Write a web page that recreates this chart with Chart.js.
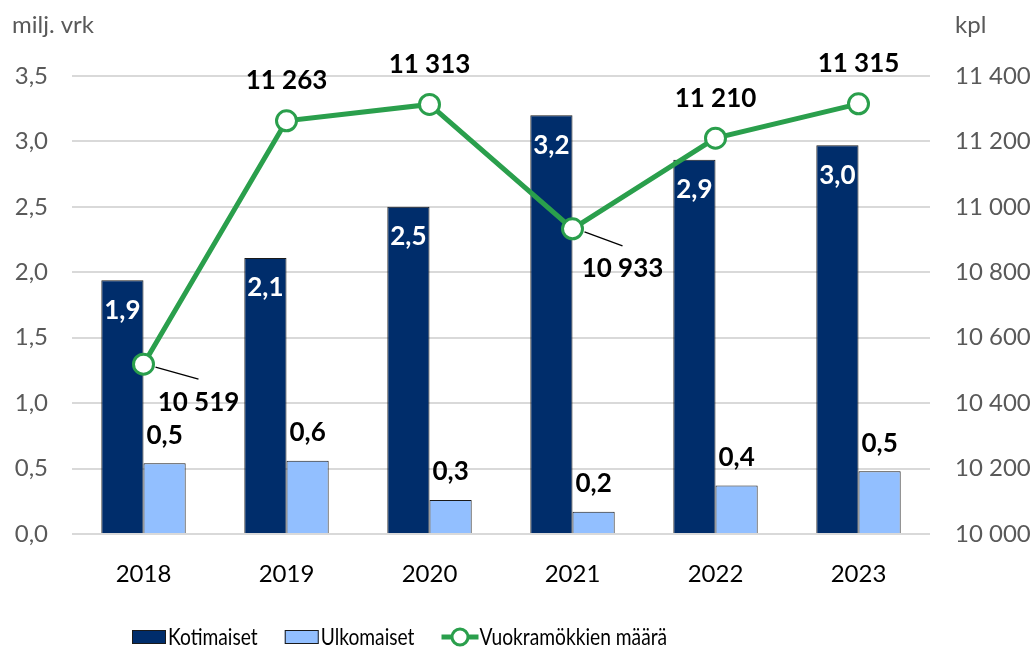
<!DOCTYPE html>
<html>
<head>
<meta charset="utf-8">
<script src="https://cdn.jsdelivr.net/npm/chart.js@4"></script>
<style>
  html, body { margin: 0; padding: 0; background: #fff; }
  #wrap { width: 1035px; height: 654px; }
</style>
</head>
<body>
<div id="wrap"><canvas id="chart" width="1035" height="654"></canvas></div>
<script>
// Data
const years = ['2018', '2019', '2020', '2021', '2022', '2023'];
const kotimaiset = [1.94, 2.11, 2.50, 3.20, 2.86, 2.97];
const ulkomaiset = [0.54, 0.56, 0.26, 0.17, 0.37, 0.48];
const mokit = [10519, 11263, 11313, 10933, 11210, 11315];
const seriesNames = ['Kotimaiset', 'Ulkomaiset', 'Vuokramökkien määrä'];
const leftTitle = 'milj. vrk';
const rightTitle = 'kpl';

const NAVY = '#002d6b';
const LIGHT = '#92bfff';
const GREEN = '#2a9f4c';
const GRAY = '#595959';
const FONT = 'Lato, "Open Sans", sans-serif';

const fmtDec = v => v.toFixed(1).replace('.', ',');
const fmtInt = v => String(Math.round(v)).replace(/\B(?=(\d{3})+(?!\d))/g, ' ');

// label offsets for the line points (dx, dy, leader line)
const lineLabelPos = { 0: [55, 38, true], 3: [50, 40, true] };

const labelPlugin = {
    id: 'valueLabels',
    afterDatasetsDraw(chart) {
        const ctx = chart.ctx;
        ctx.save();
        ctx.textAlign = 'center';
        ctx.textBaseline = 'middle';
        ctx.font = 'bold 26px ' + FONT;
        chart.data.datasets.forEach((ds, i) => {
            const meta = chart.getDatasetMeta(i);
            meta.data.forEach((el, j) => {
                const v = ds.data[j];
                if (ds.labelMode === 'inside') {
                    ctx.fillStyle = '#fff';
                    ctx.fillText(fmtDec(v), el.x, el.y + 30);
                } else if (ds.labelMode === 'above') {
                    ctx.fillStyle = '#000';
                    ctx.fillText(fmtDec(v), el.x, el.y - 28);
                } else if (ds.labelMode === 'line') {
                    const p = lineLabelPos[j] || [0, -40, false];
                    if (p[2]) {
                        ctx.strokeStyle = '#000';
                        ctx.lineWidth = 1.3;
                        ctx.beginPath();
                        ctx.moveTo(el.x + 12, el.y + 3);
                        ctx.lineTo(el.x + p[0], el.y + p[1] - 23);
                        ctx.stroke();
                    }
                    ctx.fillStyle = '#000';
                    ctx.fillText(fmtInt(v), el.x + p[0], el.y + p[1]);
                }
            });
        });
        ctx.restore();
    },
    afterDraw(chart) {
        const ctx = chart.ctx;
        const area = chart.chartArea;
        ctx.save();
        // axis titles
        ctx.font = '24px ' + FONT;
        ctx.fillStyle = GRAY;
        ctx.textBaseline = 'middle';
        ctx.textAlign = 'left';
        ctx.fillText(leftTitle, 12, 25);
        ctx.fillText(rightTitle, area.right + 25, 25);

        // legend (text squeezed a bit, the original font is narrow)
        const ly = 637;
        const squeeze = 0.8;
        let x = 132;
        ctx.font = '24px ' + FONT;
        chart.data.datasets.forEach((ds) => {
            if (ds.type === 'line') {
                ctx.strokeStyle = GREEN;
                ctx.lineWidth = 5;
                ctx.beginPath();
                ctx.moveTo(x, ly);
                ctx.lineTo(x + 37, ly);
                ctx.stroke();
                ctx.beginPath();
                ctx.arc(x + 18.5, ly, 8, 0, Math.PI * 2);
                ctx.fillStyle = '#fff';
                ctx.fill();
                ctx.lineWidth = 3;
                ctx.stroke();
                x += 38;
            } else {
                ctx.fillStyle = ds.backgroundColor;
                ctx.fillRect(x, ly - 7, 34, 14);
                ctx.strokeStyle = '#1a1a1a';
                ctx.lineWidth = 1;
                ctx.strokeRect(x + 0.5, ly - 6.5, 33, 13);
                x += 36;
            }
            ctx.fillStyle = '#000';
            ctx.save();
            ctx.translate(x, ly);
            ctx.scale(squeeze, 1);
            ctx.fillText(ds.label, 0, 0);
            ctx.restore();
            x += ctx.measureText(ds.label).width * squeeze + 27;
        });
        ctx.restore();
    }
};

const ctx = document.getElementById('chart').getContext('2d');
new Chart(ctx, {
    type: 'bar',
    data: {
        labels: years,
        datasets: [
            {
                label: seriesNames[0],
                data: kotimaiset,
                backgroundColor: NAVY,
                borderColor: '#1a1a1a',
                borderWidth: 1,
                yAxisID: 'y',
                order: 1,
                labelMode: 'inside'
            },
            {
                label: seriesNames[1],
                data: ulkomaiset,
                backgroundColor: LIGHT,
                borderColor: '#1a1a1a',
                borderWidth: 1,
                yAxisID: 'y',
                order: 1,
                labelMode: 'above'
            },
            {
                type: 'line',
                label: seriesNames[2],
                data: mokit,
                borderColor: GREEN,
                borderWidth: 5,
                pointRadius: 10,
                pointBorderWidth: 3,
                pointBackgroundColor: '#fff',
                pointBorderColor: GREEN,
                tension: 0,
                yAxisID: 'y2',
                order: 0,
                labelMode: 'line'
            }
        ]
    },
    options: {
        responsive: false,
        animation: false,
        layout: { padding: { top: 76, left: 12, right: 0, bottom: 0 } },
        datasets: {
            bar: { barPercentage: 1, categoryPercentage: 0.59 }
        },
        scales: {
            x: {
                grid: { display: false },
                border: { display: false },
                ticks: { color: '#000', font: { family: FONT, size: 24 }, padding: 18 },
                afterFit: s => { s.height = 120; }
            },
            y: {
                position: 'left',
                min: 0,
                max: 3.5,
                grid: { color: '#d9d9d9', lineWidth: 2, drawTicks: false },
                border: { display: false },
                ticks: {
                    stepSize: 0.5,
                    color: GRAY,
                    padding: 24,
                    font: { family: FONT, size: 24 },
                    callback: v => fmtDec(v)
                },
                afterFit: s => { s.width = 60; }
            },
            y2: {
                position: 'right',
                min: 10000,
                max: 11400,
                grid: { display: false, drawTicks: false },
                border: { display: false },
                ticks: {
                    stepSize: 200,
                    color: GRAY,
                    padding: 25,
                    font: { family: FONT, size: 24 },
                    callback: v => fmtInt(v)
                },
                afterFit: s => { s.width = 105; }
            }
        },
        plugins: {
            legend: { display: false },
            tooltip: { enabled: false }
        }
    },
    plugins: [labelPlugin]
});
</script>
</body>
</html>
